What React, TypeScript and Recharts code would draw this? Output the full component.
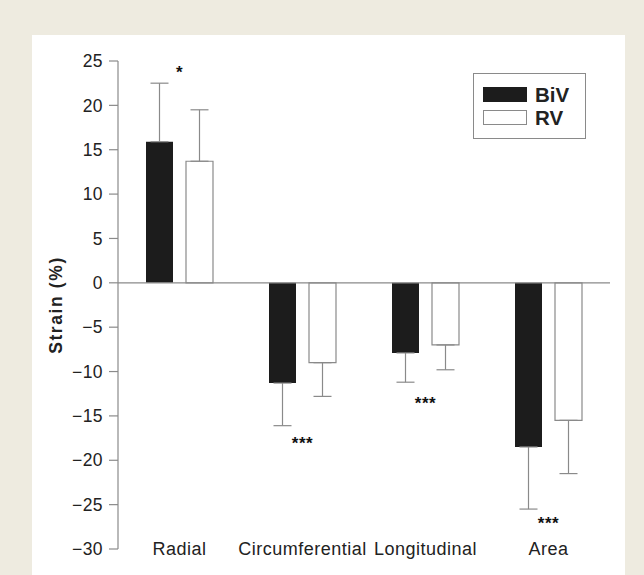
import React from 'react'
import { BarChart, Bar, XAxis, YAxis, ErrorBar, ReferenceLine, ReferenceDot, Legend, Label } from 'recharts'

const categories = ['Radial', 'Circumferential', 'Longitudinal', 'Area']
const bivMean = [15.9, -11.3, -7.9, -18.5]
const bivSd = [6.6, 4.8, 3.3, 7.0]
const rvMean = [13.7, -9.0, -7.0, -15.5]
const rvSd = [5.8, 3.8, 2.8, 6.0]
const sigLabels = ['*', '***', '***', '***']
const sigPos = [24.2, -17.6, -13.1, -26.6]
const yTicks = [25, 20, 15, 10, 5, 0, -5, -10, -15, -20, -25, -30]

// one-sided SD: only drawn away from zero
const oneSided = (m: number, sd: number) => (m >= 0 ? [0, sd] : [sd, 0])

const data = categories.map((c, i) => ({
  category: c,
  BiV: bivMean[i],
  bivErr: oneSided(bivMean[i], bivSd[i]),
  RV: rvMean[i],
  rvErr: oneSided(rvMean[i], rvSd[i]),
}))

const FONT = '"Liberation Sans", Arial, Helvetica, sans-serif'
const GREY = '#8a8a8a'
const INK = '#222'

const swatches: Record<string, React.CSSProperties> = {
  BiV: { background: '#1c1c1c', border: '1px solid #1c1c1c' },
  RV: { background: '#fff', border: `1px solid ${GREY}` },
}

function LegendBox({ payload }: any) {
  return (
    <div style={{ border: `1px solid ${GREY}`, width: 113, height: 66, boxSizing: 'border-box', paddingTop: 13, paddingLeft: 9, background: '#fff' }}>
      {(payload ?? []).map((e: any, i: number) => (
        <div key={e.value} style={{ display: 'flex', alignItems: 'center', height: 15, marginTop: i ? 8 : 0 }}>
          <div style={{ width: 44, height: 15, boxSizing: 'border-box', ...swatches[e.value] }} />
          <span style={{ marginLeft: 8, fontFamily: FONT, fontWeight: 700, fontSize: 20.5, lineHeight: '15px', color: INK }}>{e.value}</span>
        </div>
      ))}
    </div>
  )
}

function CatTick({ x, y, payload }: any) {
  return (
    <text x={x} y={y} dy="0.36em" textAnchor="middle" fill={INK} style={{ fontFamily: FONT, fontSize: 18, letterSpacing: 0.5 }}>
      {payload.value}
    </text>
  )
}

export default function App() {
  return (
    <div style={{ position: 'absolute', left: 0, top: 0, width: 644, height: 575, background: '#eeebe0', overflow: 'hidden' }}>
      <div style={{ position: 'absolute', left: 32, top: 35, width: 593, height: 540, background: '#fff' }} />
      <div style={{ position: 'absolute', left: 0, top: 0 }}>
        <BarChart width={644} height={575} data={data} margin={{ top: 61, right: 34, bottom: 0, left: 0 }} barSize={27} barGap={13}>
          <XAxis dataKey="category" axisLine={false} tickLine={false} tickSize={0} tickMargin={0} height={26} tick={<CatTick />} interval={0} />
          <YAxis
            type="number"
            domain={[-30, 25]}
            ticks={yTicks}
            width={118}
            tickSize={9}
            tickMargin={6}
            axisLine={{ stroke: GREY, strokeWidth: 1.2 }}
            tickLine={{ stroke: GREY, strokeWidth: 1.2 }}
            tick={{ fill: INK, fontSize: 17.5, fontFamily: FONT, letterSpacing: 0.4 }}
            tickFormatter={(v: number) => (v < 0 ? '\u2212' + Math.abs(v) : String(v))}
          >
            <Label
              value="Strain (%)"
              angle={-90}
              position="center"
              dx={-3}
              style={{ fontFamily: FONT, fontWeight: 700, fontSize: 17.5, letterSpacing: 1.6, fill: INK }}
            />
          </YAxis>
          <ReferenceLine y={0} stroke={GREY} strokeWidth={1.2} />
          <Legend
            layout="vertical"
            align="center"
            verticalAlign="middle"
            wrapperStyle={{ left: 473, top: 73, width: 113, height: 66 }}
            content={<LegendBox />}
          />
          <Bar dataKey="BiV" name="BiV" fill="#1c1c1c" isAnimationActive={false}>
            <ErrorBar dataKey="bivErr" width={9} stroke={GREY} strokeWidth={1.2} />
          </Bar>
          <Bar dataKey="RV" name="RV" fill="#fff" stroke={GREY} strokeWidth={1.2} isAnimationActive={false}>
            <ErrorBar dataKey="rvErr" width={9} stroke={GREY} strokeWidth={1.2} />
          </Bar>
          {categories.map((c, i) => (
            <ReferenceDot
              key={c}
              x={c}
              y={sigPos[i]}
              r={0}
              shape={(p: any) => (
                <text x={p.cx} y={p.cy} dy="0.58em" textAnchor="middle" fill="#111" style={{ fontFamily: FONT, fontWeight: 700, fontSize: 17, letterSpacing: 0.5 }}>
                  {sigLabels[i]}
                </text>
              )}
            />
          ))}
        </BarChart>
      </div>
    </div>
  )
}
